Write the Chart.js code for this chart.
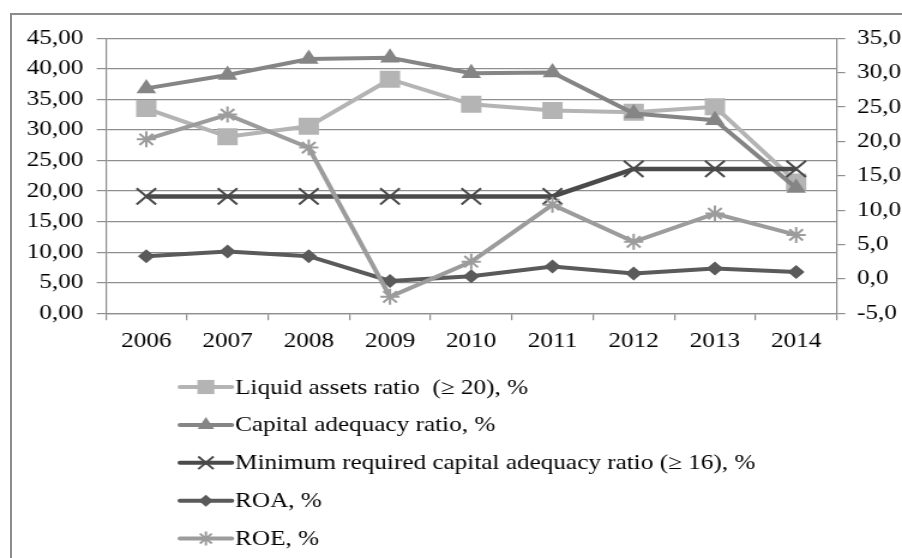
<!DOCTYPE html>
<html><head><meta charset="utf-8">
<script src="https://cdn.jsdelivr.net/npm/chart.js@4.4.1/dist/chart.umd.min.js"></script>
<style>
html,body{margin:0;padding:0;background:#fff;overflow:hidden;width:902px;height:558px;}
#frame{position:absolute;left:10px;top:13px;width:2000px;height:2000px;border-top:2px solid #8c8c8c;border-left:2px solid #8c8c8c;}
#wrap{position:absolute;left:0;top:0;width:752px;height:558px;transform:scaleX(1.19947);transform-origin:0 0;}
</style></head><body>
<div id="frame"></div>
<div id="wrap"><canvas id="c" width="752" height="558"></canvas></div>
<script>
const YEARS = ['2006','2007','2008','2009','2010','2011','2012','2013','2014'];
const LIQUID = [33.5, 28.9, 30.6, 38.3, 34.2, 33.2, 32.9, 33.8, 21.5];
const CAPITAL = [36.8, 39.0, 41.6, 41.8, 39.3, 39.4, 32.7, 31.6, 20.5];
const MIN_REQ = [12, 12, 12, 12, 12, 12, 16, 16, 16];
const ROA = [3.3, 4.0, 3.3, -0.3, 0.4, 1.8, 0.8, 1.5, 1.0];
const ROE = [20.3, 23.9, 19.1, -2.6, 2.5, 10.8, 5.4, 9.5, 6.4];
const LEFT_AXIS = {min: 0, max: 45, step: 5};
const RIGHT_AXIS = {min: -5, max: 35, step: 5};
const LABELS = ['Liquid assets ratio  (\u2265 20), %', 'Capital adequacy ratio, %', 'Minimum required capital adequacy ratio (\u2265 16), %', 'ROA, %', 'ROE, %'];

const FONT = {family: '"Liberation Serif", "Times New Roman", serif', size: 21};
const GRID = '#8e8e8e';

function ds(label, data, color, style, r, bw, axis, order, lw, legendR) {
  return {label, data, borderColor: color, backgroundColor: color, pointBackgroundColor: color,
    pointBorderColor: color, pointStyle: style, pointRadius: r, pointHoverRadius: r,
    pointBorderWidth: bw, borderWidth: lw, tension: 0, yAxisID: axis, order, legendRadius: legendR, fill: false};
}

const datasets = [
  ds(LABELS[0], LIQUID, '#b4b4b4', 'rect', 12, 0, 'y', 5, 4, 10),
  ds(LABELS[1], CAPITAL, '#858585', 'triangle', 9.5, 0, 'y', 4, 4, 8),
  ds(LABELS[2], MIN_REQ, '#4a4a4a', 'crossRot', 11.5, 2, 'y1', 3, 4.5, 9),
  ds(LABELS[3], ROA, '#5a5a5a', 'rectRot', 7, 0, 'y1', 2, 4, 6),
  ds(LABELS[4], ROE, '#9c9c9c', 'star', 8, 2, 'y1', 1, 4, 7)
];

const vLegend = {
  id: 'vLegend',
  afterDraw(chart) {
    const ctx = chart.ctx;
    const x0 = 150, x1 = 193.3, tx = 196, top = 387, gap = 37.9;
    chart.data.datasets.forEach((d, i) => {
      const y = top + i * gap;
      ctx.save();
      ctx.strokeStyle = d.borderColor;
      ctx.fillStyle = d.borderColor;
      ctx.lineWidth = 4;
      ctx.lineCap = 'round';
      ctx.beginPath(); ctx.moveTo(x0, y); ctx.lineTo(x1, y); ctx.stroke();
      ctx.lineWidth = d.pointBorderWidth || 0;
      ctx.lineCap = 'butt';
      if (Chart.helpers && Chart.helpers.drawPoint) {
        Chart.helpers.drawPoint(ctx, {pointStyle: d.pointStyle, radius: d.legendRadius, borderWidth: d.pointBorderWidth, rotation: 0}, (x0 + x1) / 2, y);
      }
      ctx.fillStyle = '#000';
      ctx.font = FONT.size + 'px ' + FONT.family;
      ctx.textBaseline = 'middle';
      ctx.textAlign = 'left';
      ctx.fillText(d.label, tx, y + 1);
      ctx.restore();
    });
  }
};

new Chart(document.getElementById('c'), {
  type: 'line',
  data: {labels: YEARS, datasets},
  options: {
    responsive: false,
    animation: false,
    devicePixelRatio: 1,
    layout: {padding: {left: 0, right: 0, top: 38.3, bottom: 200}},
    plugins: {legend: {display: false}, tooltip: {enabled: false}},
    scales: {
      x: {
        offset: true,
        grid: {display: true, drawOnChartArea: false, drawTicks: true, tickLength: 7, color: GRID, lineWidth: 1.2, offset: true},
        border: {display: true, color: GRID, width: 1.2},
        ticks: {color: '#000', font: FONT, padding: 9, maxRotation: 0, autoSkip: false},
        afterFit(s) { s.height = 558 - 200 - 313.3; }
      },
      y: {
        position: 'left',
        min: LEFT_AXIS.min, max: LEFT_AXIS.max,
        grid: {color: GRID, lineWidth: 1.2, drawTicks: true, tickLength: 7.5},
        border: {display: true, color: GRID, width: 1.2},
        ticks: {stepSize: LEFT_AXIS.step, color: '#000', font: FONT, padding: 11,
          callback: v => v.toFixed(2).replace('.', ',')},
        afterFit(s) { s.width = 88.1; }
      },
      y1: {
        position: 'right',
        min: RIGHT_AXIS.min, max: RIGHT_AXIS.max,
        grid: {drawOnChartArea: false, drawTicks: true, tickLength: 7, color: GRID, lineWidth: 1.2},
        border: {display: true, color: GRID, width: 1.2},
        ticks: {stepSize: RIGHT_AXIS.step, color: '#000', font: FONT, padding: 10,
          callback: v => v.toFixed(1).replace('.', ',')},
        afterFit(s) { s.width = 752 - 697.6; }
      }
    }
  },
  plugins: [vLegend]
});
</script>
</body></html>
